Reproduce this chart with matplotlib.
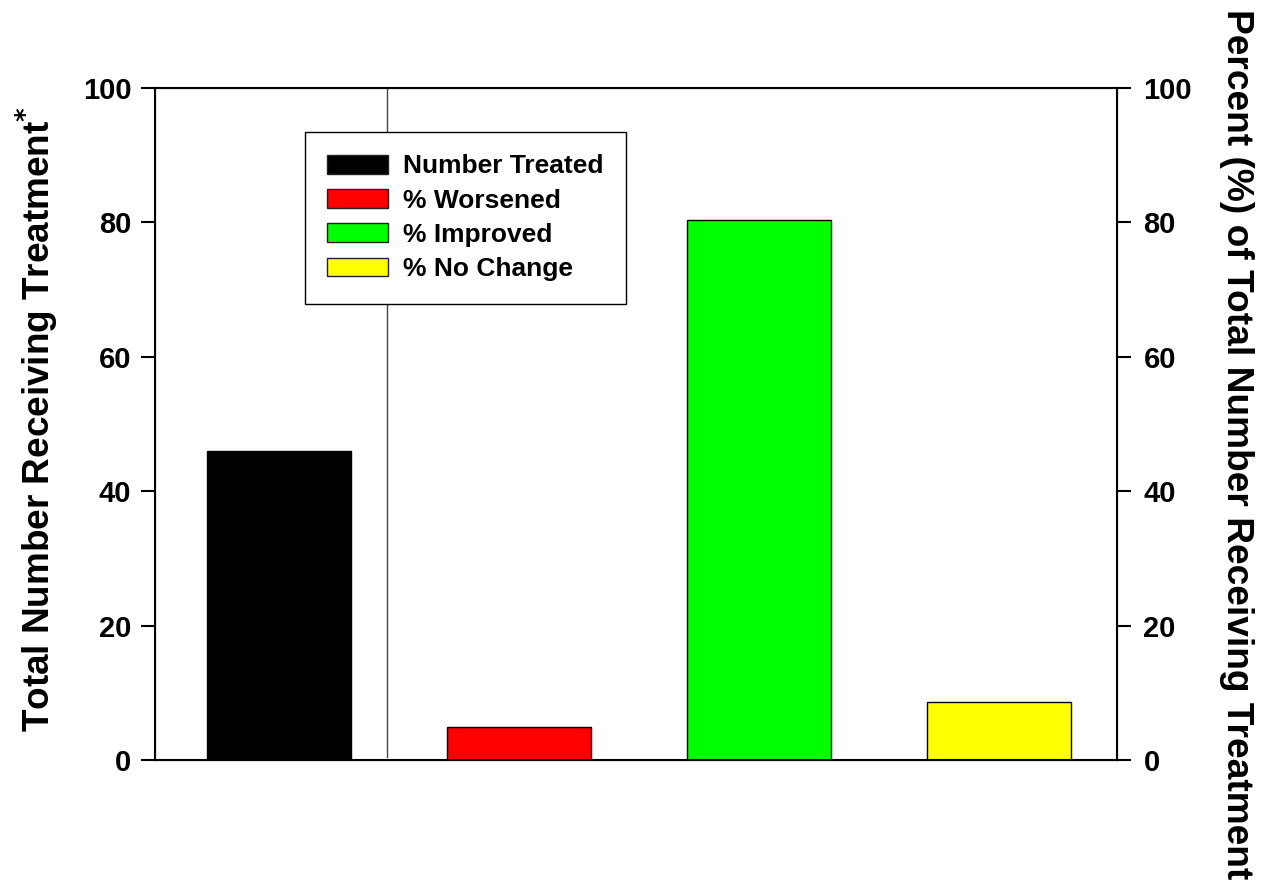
import matplotlib
matplotlib.use('Agg')
import matplotlib.pyplot as plt
from matplotlib.patches import Patch

# 数据
categories = ['Number Treated', '% Worsened', '% Improved', '% No Change']
values = [46.0, 4.9, 80.4, 8.6]
colors = ['#000000', '#ff0000', '#00ff00', '#ffff00']
y_ticks = [0, 20, 40, 60, 80, 100]

plt.rcParams['font.family'] = ['Liberation Sans', 'DejaVu Sans']
plt.rcParams['font.weight'] = 'bold'
plt.rcParams['mathtext.default'] = 'bf'

fig = plt.figure(figsize=(12.62, 8.84), dpi=100)
ax = fig.add_axes([0.1228, 0.1403, 0.7623, 0.7602])

x = list(range(len(values)))
ax.bar(x, values, width=0.6, color=colors, edgecolor='black', linewidth=1.0)
ax.plot([0.45, 0.45], [0.5, 100], color='#444444', linewidth=1.0, zorder=1)

ax.set_xlim(-0.515, 3.49)
ax.set_ylim(0, 100)
ax.set_xticks([])
ax.set_yticks(y_ticks)
ax.tick_params(axis='y', direction='out', length=10, width=1.5, labelsize=21, pad=7)
for s in ax.spines.values():
    s.set_linewidth(1.5)
ax.set_ylabel('Total Number Receiving Treatment$^{*}$', fontsize=26.6, fontweight='bold')
ax.yaxis.set_label_coords(-0.123, 0.508)
ax.yaxis.label.set_va('center')

ax2 = ax.twinx()
ax2.set_ylim(0, 100)
ax2.set_yticks(y_ticks)
ax2.tick_params(axis='y', direction='out', length=10, width=1.5, labelsize=21, pad=9)
ax2.set_ylabel('Percent (%) of Total Number Receiving Treatment', fontsize=26.7,
               fontweight='bold', rotation=-90)
ax2.yaxis.set_label_coords(1.1247, 0.470)
ax2.yaxis.label.set_va('center')
ax2.yaxis.label.set_ha('center')

handles = [Patch(facecolor=c, edgecolor='#222222', linewidth=1.0) for c in colors]
leg = ax2.legend(handles, categories, loc='upper left', bbox_to_anchor=(305 / 1262, 1 - 132 / 884),
                 bbox_transform=fig.transFigure, fontsize=19, frameon=True, fancybox=False,
                 framealpha=1, edgecolor='black', handlelength=2.3, handleheight=0.72,
                 labelspacing=0.39, borderpad=0.85, handletextpad=0.55, borderaxespad=0)
leg.get_frame().set_linewidth(1.0)
for t in leg.get_texts():
    t.set_fontweight('bold')

fig.savefig('out.png', dpi=100)
